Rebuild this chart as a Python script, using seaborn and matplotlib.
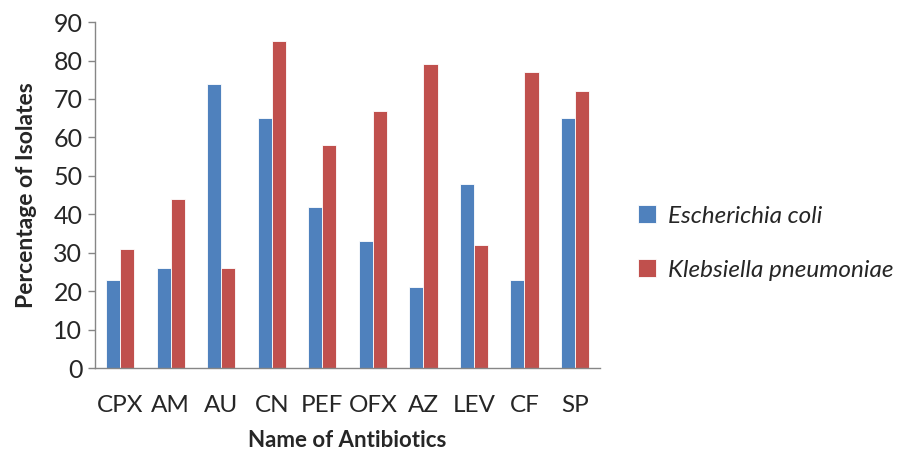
import pandas as pd
import matplotlib
matplotlib.use('Agg')
import matplotlib.pyplot as plt
import seaborn as sns

antibiotics = ['CPX', 'AM', 'AU', 'CN', 'PEF', 'OFX', 'AZ', 'LEV', 'CF', 'SP']
e_coli = [23, 26, 74, 65, 42, 33, 21, 48, 23, 65]
k_pneumoniae = [31, 44, 26, 85, 58, 67, 79, 32, 77, 72]
species = ['Escherichia coli', 'Klebsiella pneumoniae']

df = pd.DataFrame({
    'Antibiotic': antibiotics * 2,
    'Percent': e_coli + k_pneumoniae,
    'Species': [species[0]] * len(antibiotics) + [species[1]] * len(antibiotics),
})

sns.set_style('white')
plt.rcParams['font.family'] = ['Lato', 'DejaVu Sans']

fig = plt.figure(figsize=(9.04, 4.51), dpi=100)
ax = fig.add_axes([0.105, 0.184, 0.559, 0.767])

sns.barplot(data=df, x='Antibiotic', y='Percent', hue='Species',
            palette=['#4F81BD', '#C0504D'], width=0.56, ax=ax,
            edgecolor='white', linewidth=0.6, saturation=1)

ax.set_ylim(0, 90)
ax.set_yticks(range(0, 91, 10))
ax.set_xlim(-0.5, len(antibiotics) - 0.5)
ax.tick_params(axis='y', which='both', left=True, length=5, width=1, color='#868686',
               labelsize=18, pad=4)
ax.tick_params(axis='x', bottom=False, labelsize=17.5, pad=16)

for side in ['top', 'right']:
    ax.spines[side].set_visible(False)
for side in ['left', 'bottom']:
    ax.spines[side].set_color('#868686')
    ax.spines[side].set_linewidth(1)

ax.set_xlabel('Name of Antibiotics', fontsize=16, fontweight='bold', labelpad=10)
ax.set_ylabel('Percentage of Isolates', fontsize=16.5, fontweight='bold', labelpad=12)

leg = ax.legend(loc='center left', bbox_to_anchor=(638 / 904, 1 - 243 / 451),
                bbox_transform=fig.transFigure, frameon=False,
                borderpad=0, borderaxespad=0,
                prop={'size': 17.5, 'style': 'italic', 'family': ['Lato', 'DejaVu Sans']},
                handlelength=0.75, handleheight=0.75, labelspacing=1.35, handletextpad=0.5)

fig.savefig('out.png', dpi=100)
